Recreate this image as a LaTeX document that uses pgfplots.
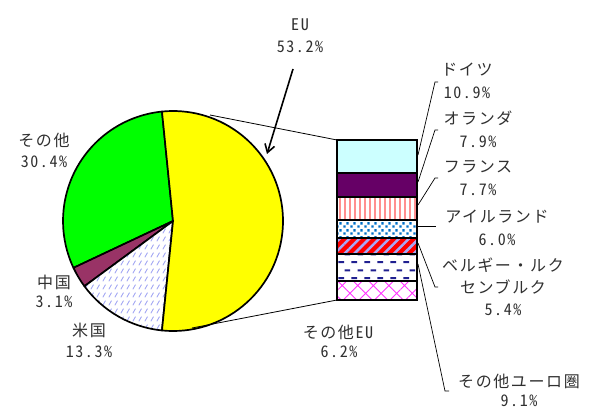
\documentclass[border=0pt]{standalone}
\usepackage{fontspec}
\setmainfont{Noto Sans CJK JP}[RawFeature={+hwid}, LetterSpace=10]
\usepackage{pgfplots}
\pgfplotsset{compat=1.18}
\usepackage{pgfplotstable}
\usetikzlibrary{patterns.meta, arrows.meta}

\definecolor{euyellow}{HTML}{FFFF00}
\definecolor{othgreen}{HTML}{00FF00}
\definecolor{cnplum}{HTML}{993366}
\definecolor{uslav}{HTML}{A4A8F4}
\definecolor{decyan}{HTML}{CCFFFF}
\definecolor{nlpurple}{HTML}{660066}
\definecolor{frsalmon}{HTML}{FF9090}
\definecolor{ieblue}{HTML}{0070C8}
\definecolor{bered}{HTML}{FF0000}
\definecolor{belav}{HTML}{A8A8F8}
\definecolor{eznavy}{HTML}{202090}
\definecolor{eumag}{HTML}{FF33FF}
\definecolor{txt}{HTML}{303030}

% short slanted dashes
\tikzdeclarepattern{
  name=slashdash, type=uncolored,
  bounding box={(-1pt,-1pt) and (7pt,9pt)},
  tile size={(6pt,8pt)},
  code={\draw[line width=0.9pt, line cap=round] (1pt,1pt) -- (3.4pt,5.2pt);}
}
% staggered square dots
\tikzdeclarepattern{
  name=sqdots, type=uncolored,
  bounding box={(0pt,0pt) and (7pt,7pt)},
  tile size={(7pt,7pt)},
  code={\fill (0.3pt,0.3pt) rectangle (2.9pt,2.9pt);
        \fill (3.8pt,3.8pt) rectangle (6.4pt,6.4pt);}
}
% staggered horizontal dashes
\tikzdeclarepattern{
  name=hdash, type=uncolored,
  bounding box={(0pt,0pt) and (13pt,16pt)},
  tile size={(13pt,16pt)},
  code={\fill (0.5pt,3pt) rectangle (6.5pt,5pt);
        \fill (7pt,11pt) rectangle (13pt,13pt);}
}

% pie shares (percent), counter-clockwise after EU
\pgfplotstableread{
name   share
other  30.4
china  3.1
usa    13.3
eu     53.2
}\pietable

\begin{document}
\begin{tikzpicture}[font=\fontsize{16}{19}\selectfont, text=txt]
\pgfplotstablegetelem{0}{share}\of\pietable \let\sOther\pgfplotsretval
\pgfplotstablegetelem{1}{share}\of\pietable \let\sChina\pgfplotsretval
\pgfplotstablegetelem{2}{share}\of\pietable \let\sUSA\pgfplotsretval
\pgfplotstablegetelem{3}{share}\of\pietable \let\sEU\pgfplotsretval
\pgfmathsetmacro\aA{90+(\sEU-50)*1.8}
\pgfmathsetmacro\aB{\aA+\sOther*3.6}
\pgfmathsetmacro\aC{\aB+\sChina*3.6}
\pgfmathsetmacro\aD{\aC+\sUSA*3.6}
\pgfmathsetmacro\aE{\aA+360}

\begin{axis}[
  name=canvas,
  at={(0,0)}, anchor=south west,
  scale only axis, width=600pt, height=410pt,
  xmin=0, xmax=600, ymin=0, ymax=410,
  hide axis, clip=false,
]
  % pie slices
  \filldraw[fill=othgreen, draw=black, line width=1.7pt, line join=round]
    (axis cs:173,189) -- ++(\aA:110pt) arc[start angle=\aA, end angle=\aB, radius=110pt] -- cycle;
  \filldraw[fill=cnplum, draw=black, line width=1.7pt, line join=round]
    (axis cs:173,189) -- ++(\aB:110pt) arc[start angle=\aB, end angle=\aC, radius=110pt] -- cycle;
  \path[preaction={fill=white}, pattern=slashdash, pattern color=uslav]
    (axis cs:173,189) -- ++(\aC:110pt) arc[start angle=\aC, end angle=\aD, radius=110pt] -- cycle;
  \draw[black, line width=1.7pt, line join=round]
    (axis cs:173,189) -- ++(\aC:110pt) arc[start angle=\aC, end angle=\aD, radius=110pt] -- cycle;
  \filldraw[fill=euyellow, draw=black, line width=1.7pt, line join=round]
    (axis cs:173,189) -- ++(\aD:110pt) arc[start angle=\aD, end angle=\aE, radius=110pt] -- cycle;

  % connectors from the EU slice to the bar
  \draw[black, line width=0.8pt] (axis cs:210,295) -- (axis cs:337,270);
  \draw[black, line width=0.8pt] (axis cs:192,82) -- (axis cs:337,110);

  % arrow to the EU slice
  \draw[black, line width=1.6pt, -{Straight Barb[length=8pt, width=10pt]}]
    (axis cs:293,341) -- (axis cs:267,256);

  % leader lines
  \draw[black, line width=0.7pt] (axis cs:438,328) -- (axis cs:435,328) -- (axis cs:418,255);
  \draw[black, line width=0.7pt] (axis cs:438,280) -- (axis cs:435,280) -- (axis cs:418,228);
  \draw[black, line width=0.7pt] (axis cs:438,232) -- (axis cs:435,232) -- (axis cs:418,205);
  \draw[black, line width=0.7pt] (axis cs:418,184) -- (axis cs:436,184);
  \draw[black, line width=0.7pt] (axis cs:418,167) -- (axis cs:435,123) -- (axis cs:438,123);
  \draw[black, line width=0.7pt] (axis cs:418,146) -- (axis cs:445,19) -- (axis cs:449,19);

  % labels
  \node[inner sep=0pt] at (axis cs:300,385) {EU};
  \node[inner sep=0pt] at (axis cs:300,363) {53.2\%};
  \node[inner sep=0pt] at (axis cs:44,270) {その他};
  \node[inner sep=0pt] at (axis cs:44,248) {30.4\%};
  \node[inner sep=0pt] at (axis cs:54,128) {中国};
  \node[inner sep=0pt] at (axis cs:54,108) {3.1\%};
  \node[inner sep=0pt] at (axis cs:89,80) {米国};
  \node[inner sep=0pt] at (axis cs:89,58) {13.3\%};
  \node[inner sep=0pt] at (axis cs:338,78) {その他EU};
  \node[inner sep=0pt] at (axis cs:339,58) {6.2\%};
  \node[inner sep=0pt] at (axis cs:467,340) {ドイツ};
  \node[inner sep=0pt] at (axis cs:467,317) {10.9\%};
  \node[inner sep=0pt] at (axis cs:478,292) {オランダ};
  \node[inner sep=0pt] at (axis cs:478,268) {7.9\%};
  \node[inner sep=0pt] at (axis cs:478,243) {フランス};
  \node[inner sep=0pt] at (axis cs:478,220) {7.7\%};
  \node[inner sep=0pt] at (axis cs:497,193) {アイルランド};
  \node[inner sep=0pt] at (axis cs:497,170) {6.0\%};
  \node[inner sep=0pt] at (axis cs:503,145) {ベルギー・ルク};
  \node[inner sep=0pt] at (axis cs:503,123) {センブルク};
  \node[inner sep=0pt] at (axis cs:503,100) {5.4\%};
  \node[inner sep=0pt] at (axis cs:519,29) {その他ユーロ圏};
  \node[inner sep=0pt] at (axis cs:519,9) {9.1\%};
\end{axis}

% breakdown of the EU share
\begin{axis}[
  at={(337pt,110pt)}, anchor=south west,
  scale only axis, width=80pt, height=159.6pt,
  xmin=-0.5, xmax=0.5, ymin=0, ymax=53.2,
  ybar stacked, bar width=80pt,
  hide axis, clip=false,
]
  \addplot[draw=black, line width=2pt, preaction={fill=white},
    preaction={pattern={Hatch[angle=45, distance=11pt, line width=0.9pt]}, pattern color=eumag}]
    coordinates {(0,6.2)};   % その他EU
  \addplot[draw=black, line width=2pt, preaction={fill=white},
    preaction={pattern=hdash, pattern color=eznavy}]
    coordinates {(0,9.1)};   % その他ユーロ圏
  \addplot[draw=black, line width=2pt, preaction={fill=bered},
    preaction={pattern={Lines[angle=45, distance=7pt, line width=2.5pt]}, pattern color=belav}]
    coordinates {(0,5.4)};   % ベルギー・ルクセンブルク
  \addplot[draw=black, line width=2pt, preaction={fill=white},
    preaction={pattern=sqdots, pattern color=ieblue}]
    coordinates {(0,6.0)};   % アイルランド
  \addplot[draw=black, line width=2pt, preaction={fill=white},
    preaction={pattern={Lines[angle=90, distance=5pt, line width=2.5pt]}, pattern color=frsalmon}]
    coordinates {(0,7.7)};   % フランス
  \addplot[draw=black, line width=2pt, fill=nlpurple]
    coordinates {(0,7.9)};   % オランダ
  \addplot[draw=black, line width=2pt, fill=decyan]
    coordinates {(0,10.9)};  % ドイツ
\end{axis}

\pgfresetboundingbox
\path (0,0) rectangle (600pt,410pt);
\end{tikzpicture}
\end{document}
